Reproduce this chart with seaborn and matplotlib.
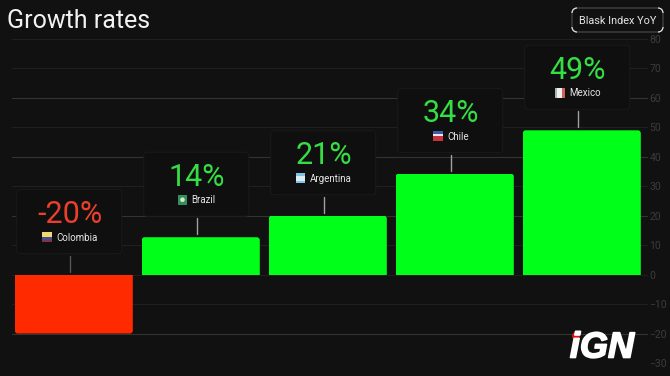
import matplotlib
matplotlib.use('Agg')
import matplotlib.pyplot as plt
import matplotlib.patheffects as pe
import pandas as pd
import seaborn as sns
from matplotlib.patches import Arc, FancyBboxPatch, Rectangle, Circle
from matplotlib.transforms import Affine2D

countries = ['Colombia', 'Brazil', 'Argentina', 'Chile', 'Mexico']
bar_values = [-20, 12.7, 20, 34.3, 49]
value_labels = ['-20%', '14%', '21%', '34%', '49%']
tick_values = [-30, -20, -10, 0, 10, 20, 30, 40, 50, 60, 70, 80]
flag_colors = [
    ['#f0dc6e', '#f0dc6e', '#4c4a8c', '#7a3352'],
    ['#2f8f60', '#2f8f60', '#2f8f60', '#2f8f60'],
    ['#7cc4e8', '#dcecf5', '#dcecf5', '#7cc4e8'],
    ['#3f58b0', '#e8e8e8', '#c8323a', '#c8323a'],
    ['#a9b8ac', '#f0f0f0', '#f0f0f0', '#d2605a'],
]
flag_vertical = [False, False, False, False, True]

BG = '#111111'
W, H = 670, 376

sns.set_theme(style='dark')
plt.rcParams['font.family'] = ['Roboto', 'DejaVu Sans']

fig = plt.figure(figsize=(6.7, 3.76), dpi=100, facecolor=BG)
px = Affine2D().scale(1 / W, 1 / H) + fig.transFigure
# axes box in pixels: 12..648 across, value 80 at y=39, value -30 at y=363
ax = fig.add_axes([12 / W, 1 - 363 / H, 636 / W, 324 / H], facecolor=BG)

df = pd.DataFrame({'country': countries, 'value': bar_values})
sns.barplot(data=df, x='country', y='value', width=0.93, ax=ax, color='#00ff19',
            order=countries, errorbar=None)
ax.set_xlim((12 - 73.75) / 127, (648 - 73.75) / 127)
ax.set_ylim(-30, 80)
ax.set_xlabel('')
ax.set_ylabel('')
ax.set_xticks([])
ax.set_yticks(tick_values)
ax.yaxis.tick_right()
ax.tick_params(axis='y', length=0, pad=1, labelsize=7.5, labelcolor='#3c3c3c')
for spine in ax.spines.values():
    spine.set_visible(False)

# gridlines, every second one is brighter
for v in tick_values:
    bright = v in (60, 40, 20, -20)
    ax.axhline(v, color='#333333' if bright else '#202020', lw=0.8, zorder=0)

sx = 127
sy = 2.94
# rounded bars, clipped on the baseline so only the far end is rounded
for bar, v in zip(ax.patches, bar_values):
    x0, w = bar.get_x(), bar.get_width()
    bar.set_visible(False)
    y0 = min(v, 0) - (2 if v > 0 else 0)
    h = abs(v) + 2
    box = FancyBboxPatch((x0, y0), w, h,
                         boxstyle=f'round,pad=0,rounding_size={3 / sx}',
                         mutation_aspect=sx / sy,
                         fc='#ff2a00' if v < 0 else '#00ff19', ec='none', zorder=3)
    ax.add_patch(box)
    box.set_clip_path(Rectangle((x0, min(v, 0)), w, abs(v), transform=ax.transData))

fig.canvas.draw()
rend = fig.canvas.get_renderer()
# cards, connectors and flags are placed in pixels from the bar end
for i, (name, v, lab, flag, vert) in enumerate(zip(countries, bar_values, value_labels,
                                                   flag_colors, flag_vertical)):
    top = max(v, 0)
    ax_px, ay_px = ax.transData.transform((i, top))
    tr = Affine2D().translate(ax_px, ay_px)
    col = '#e8402a' if v < 0 else '#35de44'
    ax.add_artist(FancyBboxPatch((-57, 21), 105, 64, boxstyle='round,pad=0,rounding_size=3',
                                 transform=tr, fc='#0f0f0f', ec='#1a1a1a', lw=0.7, zorder=4,
                                 clip_on=False))
    ax.plot([-3.5, -3.5], [3, 19], transform=tr, color='#a0a0a0' if i else '#555555', lw=1,
            zorder=5, clip_on=False)
    ax.text(-4, 60, lab, transform=tr, color=col, fontsize=22, fontweight='normal',
            ha='center', va='center', zorder=6)
    # flag + name are centred together
    t = ax.text(0, 37, name, transform=tr, color='#e6e6e6', fontsize=7,
                ha='left', va='center', zorder=6)
    tw = t.get_window_extent(rend).width
    left = -4 - (tw + 14) / 2
    t.set_x(left + 14)
    for k, c in enumerate(flag):
        if vert:
            r = Rectangle((left + k * 2.4, 32.5), 2.4, 10)
        else:
            r = Rectangle((left, 32.5 + (3 - k) * 2.5), 9.6, 2.5)
        r.set(transform=tr, fc=c, ec='none', zorder=6, clip_on=False)
        ax.add_artist(r)
    if name == 'Brazil':
        ax.add_artist(Circle((left + 4.8, 37.5), 2.3, transform=tr, fc='#d8e8c0', ec='none',
                             zorder=7, clip_on=False))

fig.text(7 / W, 1 - 21 / H, 'Growth rates', color='#f2f2f2', fontsize=18, fontweight='normal',
         va='center')
# the pill is dim with bright corners
px_l, px_r, px_b, px_t = 572, 663, H - 32, H - 8
fig.add_artist(FancyBboxPatch((px_l, px_b), px_r - px_l, px_t - px_b,
                              boxstyle='round,pad=0,rounding_size=5', transform=px,
                              fc=BG, ec='#555555', lw=0.7))
for cx, cy, a in [(px_l + 5, px_t - 5, 90), (px_r - 5, px_t - 5, 0),
                  (px_l + 5, px_b + 5, 180), (px_r - 5, px_b + 5, 270)]:
    fig.add_artist(Arc((cx, cy), 10, 10, angle=a, theta1=0, theta2=90, transform=px,
                       ec='#e0e0e0', lw=0.9))
fig.text(617.5 / W, 1 - 20.5 / H, 'Blask Index YoY', color='#e6e6e6', fontsize=7.8,
         ha='center', va='center')

logo = fig.text(602 / W, 1 - 348 / H, 'iGN', color='white', fontsize=26, fontweight='bold',
                style='italic', family='Liberation Sans', ha='center', va='center')
logo.set_path_effects([pe.withStroke(linewidth=1.2, foreground='white')])
fig.add_artist(Circle((576, H - 336), 4, transform=px, fc='#e01010', ec='none'))

fig.savefig('out.png', dpi=100, facecolor=BG)
